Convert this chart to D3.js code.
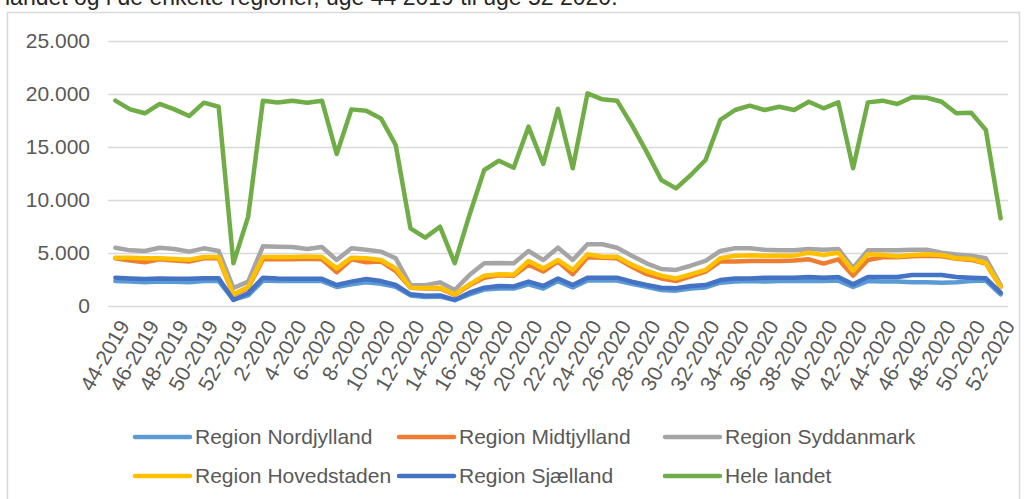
<!DOCTYPE html>
<html>
<head>
<meta charset="utf-8">
<script src="https://cdn.jsdelivr.net/npm/d3@7"></script>
<style>
  html, body { margin: 0; padding: 0; background: #fff; }
  svg { display: block; font-family: "Liberation Sans", Arial, sans-serif; }
</style>
</head>
<body>
<svg id="chart" width="1027" height="499"></svg>
<script>
const categories = [
  "44-2019","45-2019","46-2019","47-2019","48-2019","49-2019","50-2019","51-2019","52-2019",
  "1-2020","2-2020","3-2020","4-2020","5-2020","6-2020","7-2020","8-2020","9-2020","10-2020",
  "11-2020","12-2020","13-2020","14-2020","15-2020","16-2020","17-2020","18-2020","19-2020","20-2020",
  "21-2020","22-2020","23-2020","24-2020","25-2020","26-2020","27-2020","28-2020","29-2020","30-2020",
  "31-2020","32-2020","33-2020","34-2020","35-2020","36-2020","37-2020","38-2020","39-2020","40-2020",
  "41-2020","42-2020","43-2020","44-2020","45-2020","46-2020","47-2020","48-2020","49-2020","50-2020",
  "51-2020","52-2020"
];

const nordjylland = [2350,2300,2250,2300,2280,2250,2350,2350,600,1000,
  2400,2350,2350,2350,2350,1800,2050,2250,2100,1800,
  1000,850,900,550,1100,1550,1650,1650,2050,1650,
  2350,1750,2400,2400,2400,2100,1800,1500,1450,1650,
  1750,2200,2300,2350,2300,2350,2350,2350,2350,2400,
  1800,2350,2300,2300,2230,2230,2200,2230,2350,2400,
  1100];

const midtjylland = [4500,4300,4130,4400,4300,4200,4500,4500,1050,1700,
  4400,4400,4400,4450,4400,3180,4400,4130,4200,3300,
  1730,1650,1650,1050,1950,2670,2900,2850,3900,3250,
  4200,3000,4600,4550,4500,3710,3000,2600,2360,2800,
  3250,4200,4200,4250,4250,4250,4300,4400,4000,4400,
  2860,4340,4600,4600,4700,4750,4700,4450,4350,4000,
  1800];

const syddanmark = [5500,5250,5190,5500,5380,5130,5440,5190,1700,2300,
  5630,5600,5560,5380,5560,4340,5440,5300,5130,4500,
  1980,1950,2230,1510,2920,4030,4060,4030,5190,4340,
  5500,4340,5820,5820,5500,4750,4030,3490,3400,3800,
  4250,5190,5440,5440,5300,5250,5250,5380,5300,5380,
  3600,5250,5250,5250,5300,5300,5030,4850,4750,4500,
  1980];

const hovedstaden = [4560,4560,4500,4500,4440,4370,4620,4620,1100,1800,
  4620,4620,4620,4680,4620,3550,4560,4500,4340,3550,
  1730,1700,1730,1100,2040,2860,3000,2950,4250,3550,
  4340,3400,4880,4650,4650,3900,3300,2860,2600,2990,
  3400,4500,4750,4780,4750,4750,4750,5030,4810,5030,
  3300,4880,4810,4690,4810,4880,4810,4500,4440,4060,
  1820];

const sjaelland = [2670,2600,2550,2600,2580,2580,2620,2620,570,1200,
  2670,2600,2580,2580,2560,1980,2300,2550,2350,1980,
  1100,960,1000,570,1260,1730,1890,1850,2300,1890,
  2600,1980,2670,2670,2670,2300,1980,1730,1670,1890,
  1980,2450,2600,2600,2670,2670,2670,2730,2670,2730,
  2040,2730,2730,2730,2920,2920,2920,2730,2670,2610,
  1260];

const heleLandet = [19370,18550,18180,19060,18550,17920,19180,18800,4030,8430,
  19370,19200,19370,19180,19370,14340,18550,18420,17700,15190,
  7330,6450,7480,4030,8590,12830,13710,13050,16920,13400,
  18600,12990,20060,19500,19370,17080,14560,11890,11100,12360,
  13770,17550,18490,18900,18490,18800,18490,19270,18650,19210,
  12990,19210,19370,19060,19690,19650,19270,18180,18240,16600,
  8270];

const seriesNames = ["Region Nordjylland","Region Midtjylland","Region Syddanmark","Region Hovedstaden","Region Sjælland","Hele landet"];
const seriesColors = ["#5B9BD5","#ED7D31","#A5A5A5","#FFC000","#4472C4","#70AD47"];
const seriesValues = [nordjylland, midtjylland, syddanmark, hovedstaden, sjaelland, heleLandet];
const yTicks = [0,5000,10000,15000,20000,25000];
const titleText = "landet og i de enkelte regioner, uge 44 2019 til uge 52 2020.";

const svg = d3.select("#chart");
const textColor = "#595959";
const gridColor = "#d9d9d9";
const fontSize = 21;

// title (partially cut off at top, as in the reference)
svg.append("text").attr("x", 5).attr("y", 5)
  .attr("font-size", 23).attr("fill", "#262626").text(titleText);

// chart frame
svg.append("rect").attr("x", 7.5).attr("y", 12.5).attr("width", 1012).attr("height", 500)
  .attr("fill", "none").attr("stroke", gridColor).attr("stroke-width", 1.5);

const x = d3.scalePoint().domain(categories).range([108, 1008]).padding(0.5);
const y = d3.scaleLinear().domain([0, 25000]).range([306, 41]);

const loc = d3.formatLocale({decimal: ",", thousands: ".", grouping: [3], currency: ["", ""]});
const fmt = loc.format(",");

// y axis + gridlines
const yAxis = svg.append("g").attr("transform", "translate(108,0)")
  .call(d3.axisLeft(y).tickValues(yTicks).tickFormat(fmt).tickSize(-900).tickPadding(18));
yAxis.select(".domain").remove();
yAxis.selectAll(".tick line").attr("stroke", gridColor).attr("stroke-width", 1.5);
yAxis.selectAll(".tick text").attr("fill", textColor).attr("font-size", fontSize)
  .attr("font-family", "Liberation Sans, Arial, sans-serif");

// x axis labels
const xAxis = svg.append("g").attr("transform", "translate(0,306)")
  .call(d3.axisBottom(x).tickValues(categories.filter((d, i) => i % 2 === 0)).tickSize(0).tickPadding(0));
xAxis.select(".domain").remove();
xAxis.selectAll(".tick text")
  .attr("fill", textColor).attr("font-size", fontSize)
  .attr("font-family", "Liberation Sans, Arial, sans-serif")
  .attr("text-anchor", "end")
  .attr("dy", "0.35em")
  .attr("transform", "translate(8,16) rotate(-60)");

// lines
const line = d3.line().x((d, i) => x(categories[i])).y(d => y(d));
seriesValues.forEach((vals, k) => {
  svg.append("path").datum(vals)
    .attr("fill", "none").attr("stroke", seriesColors[k]).attr("stroke-width", 4.5)
    .attr("stroke-linejoin", "round").attr("stroke-linecap", "round")
    .attr("d", line);
});

// legend
const legendCols = [135, 399, 665];
const legendRows = [437, 476];
seriesNames.forEach((name, k) => {
  const lx = legendCols[k % 3], ly = legendRows[Math.floor(k / 3)];
  const g = svg.append("g");
  g.append("line").attr("x1", lx).attr("x2", lx + 55).attr("y1", ly).attr("y2", ly)
    .attr("stroke", seriesColors[k]).attr("stroke-width", 4.5).attr("stroke-linecap", "round");
  g.append("text").attr("x", lx + 60).attr("y", ly).attr("dy", "0.35em")
    .attr("font-size", fontSize).attr("fill", textColor).text(name);
});
</script>
</body>
</html>
